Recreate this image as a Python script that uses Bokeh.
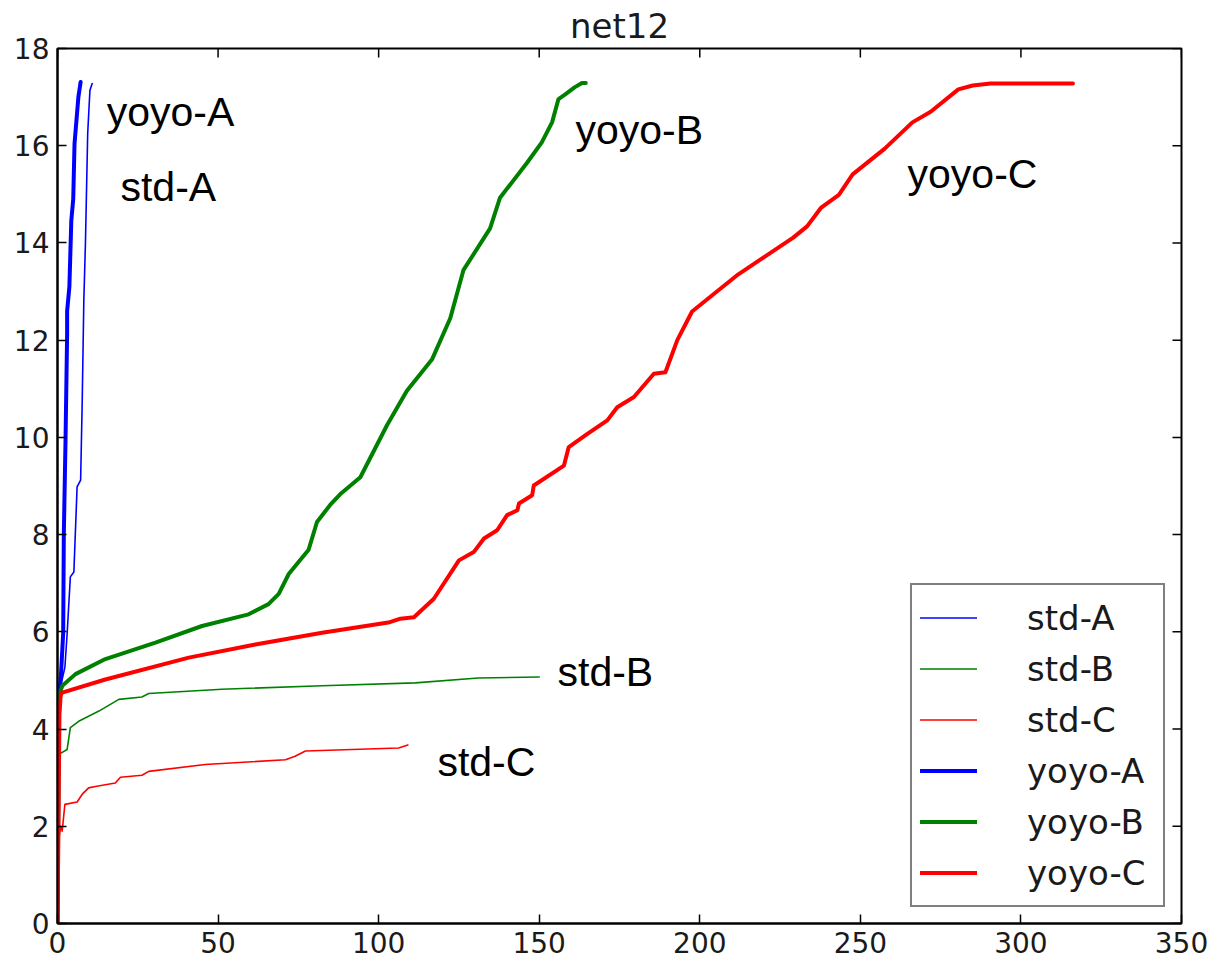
from bokeh.plotting import figure
from bokeh.models import Legend, LegendItem, Range1d, FixedTicker, ColumnDataSource, Title
from bokeh.core.properties import value
from bokeh.embed import file_html
from bokeh.resources import INLINE

# ---- data ----
std_a_x = [0, 0.3, 0.7, 2.3, 3.0, 4.0, 5.1, 6.1, 7.2, 7.7, 8.2, 8.7, 9.4, 10.1, 10.8]
std_a_y = [0, 4.0, 4.8, 5.27, 5.96, 7.13, 7.23, 8.98, 9.12, 10.76, 12.82, 14.0, 16.25, 17.14, 17.28]

std_b_x = [0, 0.4, 3.0, 4.0, 6.6, 12.9, 19.1, 26.3, 28.4, 51.2, 82.4, 111.4, 131, 150]
std_b_y = [0, 3.48, 3.58, 4.03, 4.16, 4.37, 4.61, 4.66, 4.73, 4.82, 4.89, 4.95, 5.05, 5.07]

std_c_x = [0, 0.4, 1.0, 1.45, 2.3, 6.1, 7.7, 9.7, 11.8, 18, 19.6, 26.3, 28.4, 46, 71, 74, 77.2, 106.2, 109.1]
std_c_y = [0, 1.75, 2.0, 1.9, 2.45, 2.5, 2.66, 2.79, 2.82, 2.89, 3.01, 3.05, 3.13, 3.27, 3.37, 3.44, 3.55, 3.61, 3.67]

yoyo_a_x = [0, 0.3, 0.7, 1.15, 1.77, 1.97, 2.5, 3.0, 3.0, 3.7, 4.3, 4.9, 5.3, 6.5, 7.2]
yoyo_a_y = [0, 4.0, 4.8, 5.2, 5.97, 8.02, 9.94, 12.14, 12.6, 13.1, 14.46, 14.9, 16.04, 17.0, 17.31]

yoyo_b_x = [0, 0.5, 1.5, 5.6, 14.9, 30.5, 45, 59.5, 65.7, 68.9, 72, 78.2, 80.8, 84.9, 88, 94.3,
            102.6, 108.8, 116.6, 122.3, 126.4, 134.7, 137.8, 146.1, 150.8, 154, 156, 158, 161, 163.3, 164.5]
yoyo_b_y = [0, 4.7, 4.89, 5.13, 5.44, 5.78, 6.12, 6.36, 6.57, 6.78, 7.19, 7.69, 8.26, 8.61, 8.83, 9.18,
            10.25, 10.96, 11.6, 12.45, 13.44, 14.3, 14.93, 15.64, 16.07, 16.48, 16.96, 17.05, 17.2, 17.29, 17.29]

yoyo_c_x = [0, 0.3, 0.6, 1.0, 1.45, 14.9, 40.9, 61.6, 82.4, 103, 106.8, 111, 117.2, 125, 129.6, 132.8,
            136.9, 140, 143.2, 143.7, 147.8, 148.3, 157.7, 159.2, 165, 171.2, 174.3, 179.5, 185.7, 189.3,
            193, 197.6, 211.9, 220.5, 229.1, 233.4, 237.7, 243.3, 247.6, 257.6, 266.2, 271.9, 280.5, 285,
            290.5, 316.2]
yoyo_c_y = [0, 2.0, 4.3, 4.7, 4.75, 5.02, 5.47, 5.74, 5.98, 6.19, 6.27, 6.30, 6.68, 7.47, 7.64, 7.92,
            8.09, 8.40, 8.50, 8.64, 8.81, 9.01, 9.42, 9.80, 10.07, 10.35, 10.62, 10.83, 11.31, 11.34,
            12.0, 12.59, 13.35, 13.73, 14.11, 14.34, 14.72, 14.99, 15.41, 15.94, 16.48, 16.7, 17.16, 17.24,
            17.28, 17.28]

series_names = ["std-A", "std-B", "std-C", "yoyo-A", "yoyo-B", "yoyo-C"]
series_colors = ["#0000ff", "#008000", "#ff0000", "#0000ff", "#008000", "#ff0000"]

label_texts = ["yoyo-A", "std-A", "yoyo-B", "yoyo-C", "std-B", "std-C"]
label_x = [15.3, 19.6, 161.3, 264.7, 155.7, 118.3]
label_y = [16.69, 15.15, 16.33, 15.42, 5.18, 3.33]

title_text = "net12"
x_ticks = [0, 50, 100, 150, 200, 250, 300, 350]
y_ticks = [0, 2, 4, 6, 8, 10, 12, 14, 16, 18]

X_MIN, X_MAX = 0, 350
Y_MIN, Y_MAX = 0, 18

# ---- figure ----
W, H = 1213, 962
ML, MR, MT, MB = 57, 32, 48, 39
p = figure(width=W, height=H, output_backend="svg", toolbar_location=None,
           x_range=Range1d(X_MIN, X_MAX), y_range=Range1d(Y_MIN, Y_MAX),
           min_border_left=ML, min_border_right=MR, min_border_top=MT, min_border_bottom=MB)
p.background_fill_color = "white"
p.border_fill_color = "white"
p.outline_line_color = "black"
p.outline_line_width = 2
p.xgrid.visible = False
p.ygrid.visible = False

p.title = Title(text=title_text, align="center", text_font="DejaVu Sans", text_font_size="34px",
                text_font_style="normal", text_color="#1a1a1a", standoff=5)

TICK = 9
for ax in (p.xaxis[0], p.yaxis[0]):
    ax.major_tick_in = TICK
    ax.major_tick_out = 0
    ax.minor_tick_in = 0
    ax.minor_tick_out = 0
    ax.axis_line_color = "black"
    ax.axis_line_width = 2
    ax.major_tick_line_color = "black"
    ax.major_tick_line_width = 1.5
    ax.major_label_text_font = "DejaVu Sans"
    ax.major_label_text_color = "#1a1a1a"
    ax.major_label_text_font_size = "28px"
p.xaxis.ticker = FixedTicker(ticks=x_ticks)
p.yaxis.ticker = FixedTicker(ticks=y_ticks)
p.xaxis[0].major_label_standoff = 8
p.yaxis[0].major_label_standoff = 8

# inward ticks on the top and right frame edges (tick length in data units)
frame_w = W - ML - MR
frame_h = H - MT - MB
dy = TICK * (Y_MAX - Y_MIN) / frame_h
dx = TICK * (X_MAX - X_MIN) / frame_w
p.segment(x0=x_ticks, y0=[Y_MAX] * len(x_ticks), x1=x_ticks, y1=[Y_MAX - dy] * len(x_ticks),
          line_color="black", line_width=1.5)
p.segment(x0=[X_MAX] * len(y_ticks), y0=y_ticks, x1=[X_MAX - dx] * len(y_ticks), y1=y_ticks,
          line_color="black", line_width=1.5)

xs = [std_a_x, std_b_x, std_c_x, yoyo_a_x, yoyo_b_x, yoyo_c_x]
ys = [std_a_y, std_b_y, std_c_y, yoyo_a_y, yoyo_b_y, yoyo_c_y]
widths = [1.6, 1.6, 1.6, 4, 4, 4]

renderers = []
for name, c, x, y, w in zip(series_names, series_colors, xs, ys, widths):
    r = p.line(x, y, line_color=c, line_width=w, line_join="round", line_cap="round")
    renderers.append(r)

src = ColumnDataSource(dict(x=label_x, y=label_y, t=label_texts))
p.text(x="x", y="y", text="t", source=src, text_font=value("Liberation Sans"),
       text_font_size="41px", text_color="black", text_align="left", text_baseline="alphabetic")

legend = Legend(items=[LegendItem(label=n, renderers=[r]) for n, r in zip(series_names, renderers)],
                location="bottom_right")
legend.label_text_font = "DejaVu Sans"
legend.label_text_font_size = "34px"
legend.label_text_color = "#1a1a1a"
legend.label_height = 49
legend.glyph_height = 49
legend.glyph_width = 57
legend.label_standoff = 50
legend.label_width = 128
legend.padding = 8
legend.spacing = 2
legend.margin = 16
legend.border_line_color = "black"
legend.border_line_width = 2
legend.background_fill_color = "white"
legend.background_fill_alpha = 1
p.add_layout(legend)

open("out.html", "w").write(file_html(p, INLINE))
